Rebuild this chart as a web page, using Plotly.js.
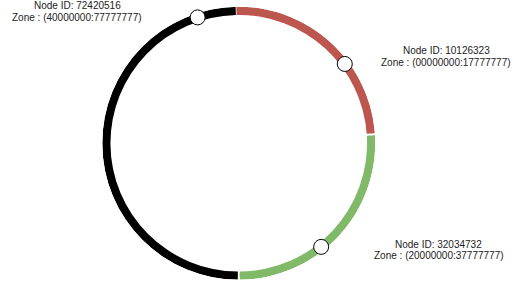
<!DOCTYPE html>
<html>
<head>
<meta charset="utf-8">
<script src="https://cdn.plot.ly/plotly-3.0.1.min.js"></script>
<style>html,body{margin:0;padding:0;background:#fff;}#chart{width:514px;height:284px;}</style>
</head>
<body>
<div id="chart"></div>
<script>
// Zones (arc start / end angles in degrees, clockwise from 12 o'clock)
const zoneNames = ["00000000:17777777", "20000000:37777777", "40000000:77777777"];
const zoneStart = [-1.0, 86.6, 180.4];
const zoneEnd = [85.8, 179.6, 358.7];
const zoneColors = ["#be5650", "#80b967", "#000000"];

// Nodes
const nodeIds = ["10126323", "32034732", "72420516"];
const nodeZones = ["00000000:17777777", "20000000:37777777", "40000000:77777777"];
const nodeAngles = [53.2, 141.5, 341.9];
// Label positions (pixels)
const labelX = [446, 438.5, 77];
const labelY = [50.7, 244, 6];

const W = 514, H = 284;
const cx = 238.75, cy = 143.25, R = 136.5;

const traces = [{
  type: "barpolar",
  theta: zoneStart.map((s, i) => (s + zoneEnd[i]) / 2),
  width: zoneStart.map((s, i) => zoneEnd[i] - s),
  r: zoneStart.map(() => 0.06),
  base: zoneStart.map(() => 0.94),
  marker: {color: zoneColors, line: {width: 0}},
  hoverinfo: "skip",
  showlegend: false
}, {
  type: "scatterpolar",
  mode: "markers",
  theta: nodeAngles,
  r: nodeAngles.map(() => 0.97),
  marker: {size: 15, color: "#ffffff", line: {color: "#000000", width: 1}},
  hoverinfo: "skip",
  showlegend: false
}];

const annotations = [];
nodeIds.forEach((id, i) => {
  annotations.push({
    xref: "paper", yref: "paper", x: labelX[i] / W, y: 1 - labelY[i] / H,
    xanchor: "center", yanchor: "middle", showarrow: false,
    text: "Node ID: " + id,
    font: {family: "Liberation Sans, Arial, sans-serif", size: 10, color: "#222"}
  });
  annotations.push({
    xref: "paper", yref: "paper", x: labelX[i] / W, y: 1 - (labelY[i] + 11.6) / H,
    xanchor: "center", yanchor: "middle", showarrow: false,
    text: "Zone : (" + nodeZones[i] + ")",
    font: {family: "Liberation Sans, Arial, sans-serif", size: 10, color: "#222"}
  });
});

const layout = {
  width: W, height: H,
  margin: {l: 0, r: 0, t: 0, b: 0},
  paper_bgcolor: "#ffffff",
  showlegend: false,
  polar: {
    domain: {x: [(cx - R) / W, (cx + R) / W], y: [(H - cy - R) / H, (H - cy + R) / H]},
    bgcolor: "rgba(0,0,0,0)",
    bargap: 0,
    radialaxis: {visible: false, range: [0, 1]},
    angularaxis: {visible: false, direction: "clockwise", rotation: 90}
  },
  annotations: annotations
};

Plotly.newPlot("chart", traces, layout, {staticPlot: true, displayModeBar: false});
</script>
</body>
</html>
